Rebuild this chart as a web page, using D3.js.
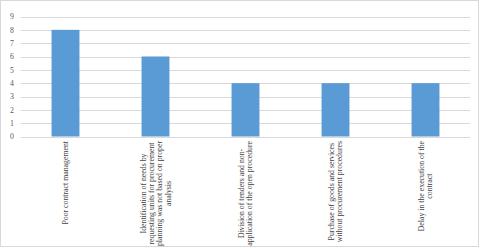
<!DOCTYPE html>
<html><head><meta charset="utf-8">
<script src="https://cdn.jsdelivr.net/npm/d3@7"></script>
<style>body{margin:0;background:#fff}svg{display:block}</style>
</head><body>
<svg id="c" width="480" height="248"></svg>
<script>
const categories = [
  ["Poor contract management"],
  ["Identification of needs by","requesting units for procurement","planning was not based on proper","analysis"],
  ["Division of tenders and non-","application of the open procedure"],
  ["Purchase of goods and services","without procurement procedures"],
  ["Delay in the execution of the","contract"]
];
const values = [8, 6, 4, 4, 4];
const yTicks = [0,1,2,3,4,5,6,7,8,9];

const svg = d3.select("#c");
svg.append("rect").attr("x",0.5).attr("y",0.5).attr("width",478).attr("height",246)
  .attr("fill","#fff").attr("stroke","#d9d9d9");

const x = d3.scaleBand().domain(d3.range(values.length)).range([20.5,470.5]).paddingInner(0.69).paddingOuter(0.345);
const y = d3.scaleLinear().domain([0,9]).range([136.5,16.5]);

const grid = svg.append("g");
grid.selectAll("line").data(yTicks).join("line")
  .attr("x1",21).attr("x2",470).attr("y1",d=>Math.round(y(d))+0.5).attr("y2",d=>Math.round(y(d))+0.5)
  .attr("stroke","#d9d9d9").attr("stroke-width",1);

svg.append("g").selectAll("text").data(yTicks).join("text")
  .attr("x",12).attr("y",d=>y(d)).attr("dy","0.35em").attr("text-anchor","middle")
  .attr("font-family","Liberation Serif").attr("font-size",7.8).attr("fill","#595959").text(d=>d);

svg.append("g").selectAll("rect").data(values).join("rect")
  .attr("x",(d,i)=>x(i)).attr("width",x.bandwidth())
  .attr("y",d=>y(d)).attr("height",d=>y(0)-y(d)).attr("fill","#5b9bd5");

const lh = 8.4;
categories.forEach((lines,i)=>{
  const cx = x(i)+x.bandwidth()/2;
  const g = svg.append("g").attr("transform",`translate(${cx},141) rotate(-90)`);
  const t = g.append("text").attr("font-family","Liberation Serif").attr("font-size",7.8)
    .attr("fill","#404040").attr("text-anchor","middle");
  const n = lines.length;
  const tsp = lines.map((l,j)=>t.append("tspan").attr("y",(j-(n-1)/2)*lh).attr("dy","0.35em").text(l));
  const maxLen = d3.max(tsp,s=>s.node().getComputedTextLength());
  tsp.forEach(s=>s.attr("x",-maxLen/2));
});
</script>
</body></html>
